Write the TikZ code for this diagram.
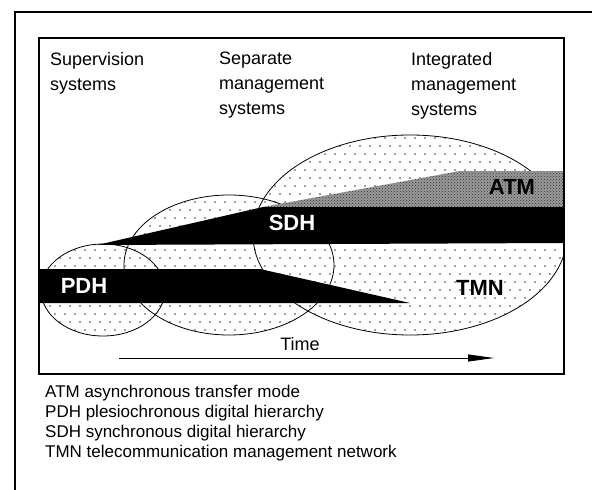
\documentclass[tikz,border=0pt]{standalone}
\usepackage{fontspec}
\setmainfont{Liberation Sans}
\usetikzlibrary{arrows.meta,patterns}
\tikzset{
  frameline/.style={line width=1.4pt},
  ellipseline/.style={line width=0.8pt},
  head/.style={anchor=north west, align=left, inner sep=0pt, font=\fontsize{18}{25}\selectfont},
  legend/.style={anchor=base west, inner sep=0pt, font=\fontsize{17}{20}\selectfont},
  bandlabel/.style={inner sep=0pt, font=\fontsize{22}{22}\selectfont\bfseries},
  dot/.style={fill=black!75},
}
\begin{document}
\begin{tikzpicture}[x=1pt,y=-1pt]
\useasboundingbox (0,0) rectangle (592,490);
% outer frame
\draw[line width=2pt] (15,490) -- (15,12) -- (592,12);
% headings
\node[head] (h1) at (50,52) {Supervision\\systems};
\node[head] (h2) at (219,52) {Separate\\management\\systems};
\node[head] (h3) at (411,52) {Integrated\\management\\systems};
% dotted fill of ellipses
\begin{scope}
  \clip (103,290) ellipse [x radius=62, y radius=46]
        (229,265) ellipse [x radius=105, y radius=70]
        (410,235) ellipse [x radius=157, y radius=100];
  \clip (39,38) rectangle (564,374);
  \fill[white] (0,0) rectangle (592,490);
  \foreach \j in {0,...,30} {
    \pgfmathsetmacro{\yy}{130+8*\j}
    \pgfmathsetmacro{\off}{mod(\j,2)*5}
    \foreach \i in {0,...,54} {
      \fill[dot] ({40+\off+10*\i},\yy) circle (0.8);
    }
  }
\end{scope}
% ellipse outlines
\begin{scope}
  \clip (39,38) rectangle (564,374);
  \draw[ellipseline] (103,290) ellipse [x radius=62, y radius=46];
  \draw[ellipseline] (229,265) ellipse [x radius=105, y radius=70];
  \draw[ellipseline] (410,235) ellipse [x radius=157, y radius=100];
\end{scope}
% bands
\fill[black!40] (263,207) -- (460,171) -- (564,171) -- (564,207) -- cycle;
\fill[pattern=crosshatch dots, pattern color=black!80] (263,207) -- (460,171) -- (564,171) -- (564,207) -- cycle;
\fill[black] (97,245) -- (263,207) -- (564,207) -- (564,243) -- cycle;
\fill[black] (39,269) -- (260,269) -- (410,303) -- (39,303) -- cycle;
% inner frame
\draw[frameline] (39,38) rectangle (564,374);
% band labels
\node[bandlabel, text=white] (pdh) at (84,286) {PDH};
\node[bandlabel, text=white] (sdh) at (292,223) {SDH};
\node[bandlabel] (atm) at (512,187) {ATM};
\node[bandlabel] (tmn) at (480,288) {TMN};
% time arrow
\node[anchor=base, inner sep=0pt, font=\fontsize{18}{18}\selectfont] (time) at (300,350) {Time};
\coordinate (t0) at (119,358);
\coordinate (t1) at (494,358);
\draw[line width=0.9pt, -{Triangle[length=26pt,width=7pt]}] (t0) -- (t1);
% legend
\node[legend] (l1) at (45,397) {ATM asynchronous transfer mode};
\node[legend] (l2) at (45,417) {PDH plesiochronous digital hierarchy};
\node[legend] (l3) at (45,437) {SDH synchronous digital hierarchy};
\node[legend] (l4) at (45,457) {TMN telecommunication management network};
\end{tikzpicture}
\end{document}
